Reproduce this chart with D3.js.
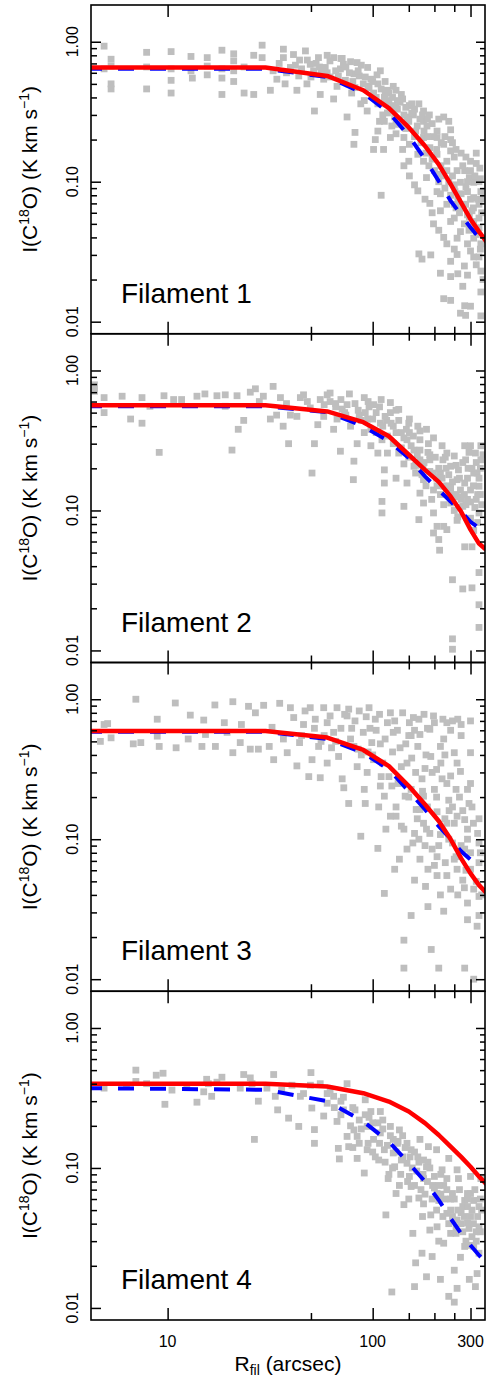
<!DOCTYPE html>
<html>
<head>
<meta charset="utf-8">
<script src="https://cdn.jsdelivr.net/npm/d3@7"></script>
<style>
  body { margin: 0; background: #fff; }
  text { font-family: "Liberation Sans", Arial, Helvetica, sans-serif; fill: #000; }
</style>
</head>
<body>
<div id="chart"></div>
<script>
// model profiles sampled every 30 arcsec
const radii = [4, 30, 60, 90, 120, 150, 180, 210, 240, 270, 300, 330, 360];

const red1  = [0.655, 0.655, 0.57, 0.45, 0.335, 0.244, 0.18, 0.133, 0.096, 0.071, 0.054, 0.044, 0.037];
const blue1 = [0.64, 0.64, 0.56, 0.43, 0.312, 0.212, 0.145, 0.101, 0.073, 0.058, 0.047, 0.040, 0.035];
const red2  = [0.565, 0.565, 0.51, 0.427, 0.339, 0.25, 0.195, 0.16, 0.126, 0.098, 0.073, 0.058, 0.052];
const blue2 = [0.555, 0.555, 0.503, 0.40, 0.312, 0.237, 0.175, 0.14, 0.116, 0.098, 0.083, 0.075, 0.068];
const red3  = [0.593, 0.593, 0.532, 0.434, 0.333, 0.24, 0.177, 0.135, 0.10, 0.073, 0.057, 0.047, 0.041];
const blue3 = [0.585, 0.585, 0.52, 0.415, 0.315, 0.22, 0.163, 0.124, 0.10, 0.082, 0.0715, 0.069, 0.066];
const red4  = [0.40, 0.40, 0.382, 0.342, 0.298, 0.253, 0.209, 0.172, 0.142, 0.12, 0.102, 0.087, 0.076];
const blue4 = [0.372, 0.362, 0.30, 0.215, 0.154, 0.108, 0.08, 0.059, 0.0436, 0.034, 0.028, 0.0238, 0.021];

// observed pixels [R_fil (arcsec), I (K km/s)]
const points1 = [
  [4.9,0.93],[4.9,0.64],[5.3,0.75],[5.3,0.67],[5.3,0.50],[5.3,0.46],
  [7.9,0.84],[7.9,0.66],[7.9,0.46],[10.4,0.85],[10.4,0.64],[10.4,0.53],[10.4,0.43],
  [13.0,0.785],[13.0,0.62],[13.2,0.55],[15.6,0.77],[15.6,0.67],[15.6,0.58],
  [18.4,0.87],[18.4,0.64],[18.4,0.55],[18.4,0.42],[21,0.82],[21,0.73],[21,0.62],[21,0.52],
  [23.6,0.66],[23.6,0.43],[26.3,0.80],[26.3,0.42],[28.9,0.945],[28.9,0.77],
  [31.7,0.45],[36.7,0.885],[32.7,0.62],[34.1,0.54],[36.7,0.77],[37.4,0.50],[39.7,0.655],
  [41.1,0.81],[42.7,0.45],[43.6,0.57],[47,0.86],[47.8,0.50],[49.6,0.69],[51.5,0.62],
  [54.4,0.77],[55.5,0.42],[57.7,0.54],[58.7,0.655],[61.9,0.73],[64.5,0.77],[64.5,0.39],
  [67,0.48],[69.6,0.64],[72,0.69],[73.6,0.53],[75,0.29],[79,0.43],[81,0.59],[82,0.47],
  [83.9,0.71],[87.5,0.36],[91,0.38],[94.5,0.655],[98,0.54],[101,0.43],[106,0.50],
  [109,0.62],[114,0.40],[52,0.32],[82,0.225],[81,0.185],[103,0.20],[101,0.17],[113,0.17],
  [110,0.08],[126,0.48],[138,0.42],[122,0.32],[130,0.257],[142,0.30],[151,0.35],[168,0.36],
  [177,0.27],[189,0.30],[206,0.23],[222,0.29],[235,0.27],[240,0.235],[222,0.185],[250,0.15],
  [281,0.12],[296,0.107],[333,0.125],[337,0.085],[311,0.077],[151,0.185],[166,0.157],
  [177,0.14],[183,0.107],[151,0.11],[142,0.13],[190,0.07],[206,0.085],[214,0.062],
  [230,0.069],[250,0.055],[198,0.05],[222,0.04],[268,0.044],[290,0.036],[240,0.027],
  [258,0.0302],[311,0.029],[337,0.036],[168,0.0305],[174,0.028],[192,0.03],[214,0.0222],
  [240,0.021],[275,0.0179],[222,0.0146],[240,0.0142],[281,0.013],[300,0.0129],[268,0.0115],
  [284,0.0111],[337,0.011],[337,0.023],[337,0.0163],[330,0.069],[330,0.055],[296,0.056],
  [262,0.072],[252,0.085],[268,0.099],[311,0.099],[284,0.069],[311,0.052],[240,0.052],
  [258,0.0395],[311,0.0395],[330,0.029],[214,0.113],[230,0.14],[177,0.207],[190,0.175],
  [162,0.23],[206,0.157],[240,0.166],[258,0.12],[290,0.085],[250,0.069],[214,0.082],
  [166,0.086],[142,0.207],[130,0.34],[147,0.29],[177,0.32],[206,0.207],[118,0.45],
  [106,0.36],[94,0.32],[114,0.27],[122,0.207],[106,0.23],
  [44,0.74],[53,0.70],[60,0.60],[66,0.62],[71,0.76],[77,0.60],[86,0.57],[90,0.50],
  [96,0.47],[104,0.40],[116,0.36],[132,0.38],[158,0.30],[184,0.25],[198,0.21],[216,0.19],
  [245,0.19],[270,0.16],[300,0.14],[320,0.16],[330,0.10],
  [115,0.42],[120,0.38],[125,0.35],[118,0.31],[128,0.29],[132,0.33],[136,0.37],[140,0.26],
  [145,0.24],[150,0.27],[155,0.31],[160,0.21],[165,0.25],[170,0.28],[172,0.19],[178,0.23],
  [182,0.16],[185,0.21],[188,0.13],[195,0.145],[200,0.12],[205,0.17],[210,0.10],[215,0.13],
  [220,0.11],[225,0.09],[230,0.12],[235,0.10],[240,0.08],[245,0.11],[250,0.095],[255,0.065],
  [260,0.078],[265,0.06],[270,0.082],[275,0.065],[280,0.05],[285,0.092],[290,0.058],
  [295,0.045],[300,0.075],[305,0.062],[310,0.048],[315,0.11],[320,0.042],[325,0.075],
  [330,0.047],[335,0.033],[340,0.06],[345,0.02],[300,0.032],[280,0.025],[260,0.022],
  [320,0.0255],[290,0.0215],[250,0.033],[230,0.036],[210,0.045],[195,0.06],[180,0.075],
  [160,0.095],[150,0.14],[140,0.17],[130,0.22],[124,0.25],[112,0.30],[108,0.27],
  [35,0.70],[38,0.60],[42,0.68],[45,0.64],[48,0.74],[50,0.56],[55,0.66],[56,0.60],[60,0.80],
  [62,0.56],[68,0.57],[70,0.76],[74,0.66],[78,0.72],[80,0.52],[85,0.62],[88,0.68],[92,0.56],
  [95,0.48],[100,0.52],[105,0.58],[110,0.46],[115,0.52],[120,0.43],[125,0.40],[130,0.45],
  [140,0.39],[145,0.34],[155,0.36],[160,0.33],[175,0.30],[185,0.28],[195,0.26],[210,0.28],
  [225,0.21],[240,0.20],[255,0.17],[285,0.15],[300,0.12],[320,0.135],[335,0.105],
  [340,0.075],[310,0.065],[290,0.10],[275,0.13]
];

const points2 = [
  [4.4,0.79],[4.4,0.71],[4.9,0.64],[4.9,0.50],[6.0,0.655],[6.6,0.45],[7.5,0.64],[7.5,0.42],
  [8.2,0.555],[9.1,0.26],[9.6,0.66],[10.7,0.62],[11.7,0.62],[13.9,0.655],[15.2,0.68],
  [17.4,0.66],[19.1,0.67],[19.1,0.555],[21.8,0.66],[22.1,0.38],[20.6,0.27],[23.5,0.44],
  [25.3,0.70],[26.8,0.74],[29.3,0.655],[32.7,0.77],[35.5,0.64],[31.7,0.45],[34,0.48],
  [36.6,0.40],[38.9,0.30],[39.7,0.48],[42.7,0.47],[44.4,0.64],[46,0.67],[49.6,0.54],
  [50.6,0.185],[52,0.30],[54,0.41],[55.5,0.62],[57.7,0.47],[60,0.67],[62,0.69],[64.5,0.38],
  [67,0.45],[69.6,0.265],[71,0.53],[75,0.57],[78,0.40],[81,0.225],[80.5,0.166],[84,0.30],
  [91,0.64],[91,0.36],[94.5,0.45],[98,0.29],[101,0.57],[104,0.50],[106,0.257],[111,0.32],
  [114,0.195],[114,0.157],[111,0.116],[111,0.096],[122,0.59],[122,0.50],[126,0.40],
  [130,0.17],[142,0.215],[142,0.107],[151,0.45],[151,0.36],[159,0.27],[162,0.185],
  [170,0.133],[168,0.086],[183,0.38],[187,0.30],[190,0.23],[198,0.185],[198,0.096],
  [198,0.069],[210,0.062],[212,0.052],[206,0.077],[222,0.077],[218,0.29],[222,0.149],
  [240,0.207],[240,0.113],[230,0.073],[245,0.032],[258,0.166],[275,0.107],[275,0.0275],
  [281,0.29],[284,0.23],[300,0.14],[305,0.055],[305,0.028],[317,0.257],[323,0.185],
  [330,0.149],[330,0.096],[330,0.036],[330,0.0212],[330,0.0146],[245,0.0121],[245,0.0102],
  [281,0.055],[311,0.072],[258,0.085],[290,0.12],[262,0.195],[214,0.185],[177,0.166],
  [147,0.157],[177,0.113],[134,0.257],[159,0.207],[198,0.14],[281,0.157],[311,0.185],
  [337,0.23],[337,0.29],[300,0.29],[250,0.245],[230,0.257],[268,0.14],[134,0.527],
  [147,0.32],[170,0.23],[118,0.257],[98,0.38],[109,0.42],[170,0.32],
  [28,0.60],[38,0.58],[48,0.60],[58,0.57],[66,0.58],[73,0.50],[86,0.48],[96,0.55],
  [117,0.44],[138,0.36],[165,0.25],[176,0.20],[205,0.17],[228,0.20],[255,0.13],[292,0.20],
  [320,0.12],[335,0.13],[265,0.105],
  [62,0.60],[66,0.55],[70,0.62],[74,0.48],[77,0.68],[82,0.58],[85,0.52],[88,0.44],[92,0.50],
  [95,0.60],[100,0.45],[104,0.36],[108,0.55],[112,0.40],[115,0.47],[118,0.34],[123,0.42],
  [126,0.30],[130,0.36],[134,0.44],[138,0.28],[142,0.33],[146,0.38],[150,0.24],[154,0.29],
  [158,0.34],[162,0.21],[166,0.40],[170,0.27],[174,0.18],[178,0.22],[182,0.15],[186,0.26],
  [190,0.19],[194,0.12],[198,0.33],[202,0.24],[206,0.15],[210,0.20],[214,0.13],[218,0.17],
  [222,0.11],[226,0.24],[230,0.15],[235,0.18],[240,0.13],[245,0.16],[250,0.10],[255,0.21],
  [260,0.125],[265,0.17],[270,0.12],[275,0.22],[280,0.13],[285,0.11],[290,0.17],[295,0.26],
  [300,0.115],[305,0.20],[310,0.15],[315,0.105],[320,0.22],[325,0.13],[330,0.17],[335,0.20],
  [340,0.11],[345,0.25],[325,0.082],[300,0.088],[260,0.09],[240,0.145],[220,0.23],
  [190,0.25],[170,0.37],[150,0.42],[130,0.52],[110,0.62]
];

const points3 = [
  [4.7,0.50],[4.9,0.66],[5.1,0.67],[5.3,0.53],[6.8,0.48],[7.0,1.0],[7.4,0.49],[8.9,0.72],
  [8.9,0.545],[9.1,0.46],[10.9,0.94],[11.0,0.45],[12.9,0.77],[12.6,0.52],[15.0,0.71],
  [15.3,0.56],[14.7,0.46],[17.0,0.91],[17.1,0.46],[18.9,0.68],[19.5,0.58],[20.8,0.96],
  [20.8,0.415],[22.9,0.66],[22.6,0.49],[24.8,0.89],[25.3,0.44],[26.8,0.80],[27.7,0.44],
  [29.4,0.905],[31.3,0.46],[32.9,0.37],[32.3,0.63],[35.2,0.935],[36.7,0.52],[38.3,0.415],
  [39.7,0.87],[41.2,0.74],[42.7,0.334],[44,0.49],[46,0.66],[46.8,0.825],[48.8,0.28],
  [49.6,0.87],[50.6,0.37],[52.5,0.72],[54.5,0.46],[55.5,0.275],[57.7,0.87],[60,0.35],
  [62,0.76],[64.5,0.58],[67,0.87],[68.2,0.39],[71,0.27],[72.3,0.233],[75,0.76],[76.4,0.85],
  [76.4,0.18],[81,0.46],[84,0.33],[86,0.825],[87.5,0.105],[91,0.227],[92,0.18],[96,0.87],
  [99,0.49],[103,0.72],[106,0.086],[107,0.17],[109,0.48],[114,0.041],[116,0.118],[122,0.80],
  [124,0.24],[126,0.58],[128,0.061],[130,0.146],[135,0.072],[138,0.124],[142,0.019],
  [142,0.012],[144,0.203],[147,0.35],[151,0.68],[154,0.0285],[157,0.094],[160,0.051],
  [163,0.163],[168,0.72],[170,0.072],[174,0.27],[177,0.13],[181,0.046],[186,0.033],
  [190,0.61],[193,0.0163],[195,0.085],[200,0.227],[205,0.315],[206,0.157],[206,0.055],
  [210,0.012],[214,0.108],[218,0.27],[222,0.0306],[226,0.068],[230,0.68],[235,0.19],
  [240,0.044],[245,0.094],[250,0.415],[255,0.227],[258,0.061],[268,0.305],[275,0.051],
  [281,0.012],[281,0.085],[290,0.035],[290,0.0266],[290,0.227],[305,0.17],[311,0.044],
  [323,0.0239],[330,0.0285],[330,0.094],[330,0.068],[311,0.010],[258,0.35],[222,0.52],
  [192,0.39],[166,0.46],[154,0.55],[133,0.25],[114,0.203],[101,0.37],[94,0.30],[109,0.24],
  [122,0.146],[142,0.118],[170,0.163],[183,0.118],[206,0.075],[230,0.13],[258,0.146],
  [281,0.138],[214,0.46],[240,0.283],[300,0.415],[177,0.203],[154,0.227],[147,0.085],
  [186,0.061],[214,0.040],[250,0.072],[300,0.061],[330,0.039],[290,0.118],
  [58,0.55],[66,0.50],[79,0.62],[88,0.40],[97,0.62],[118,0.68],[136,0.45],[160,0.60],
  [180,0.32],[200,0.68],[245,0.70],[270,0.66],[300,0.25],[330,0.14],[168,0.10],[236,0.16],
  [45,0.55],[52,0.62],[56,0.50],[60,0.68],[63,0.45],[70,0.62],[73,0.78],[78,0.52],[82,0.70],
  [85,0.44],[90,0.58],[93,0.75],[100,0.40],[104,0.60],[108,0.78],[112,0.35],[115,0.52],
  [120,0.28],[125,0.42],[128,0.70],[132,0.60],[138,0.33],[140,0.80],[145,0.48],[150,0.20],
  [155,0.38],[158,0.74],[162,0.30],[165,0.14],[170,0.56],[175,0.22],[178,0.78],[182,0.40],
  [185,0.17],[190,0.11],[195,0.30],[198,0.76],[205,0.20],[210,0.09],[215,0.35],[220,0.72],
  [225,0.14],[230,0.25],[235,0.10],[240,0.60],[245,0.17],[250,0.13],[255,0.075],[260,0.72],
  [265,0.20],[270,0.09],[275,0.16],[285,0.06],[290,0.10],[295,0.18],[300,0.08],[310,0.13],
  [320,0.05],[325,0.11],[335,0.08],[340,0.04],[280,0.045],[260,0.04],[230,0.055],
  [200,0.065],[180,0.09],[160,0.11],[130,0.17],[110,0.28],[95,0.42],[225,0.40],[270,0.55],
  [300,0.70],[185,0.62],[150,0.55]
];

const points4 = [
  [4.9,0.372],[6.3,0.39],[7.0,0.50],[7.0,0.415],[7.9,0.40],[8.8,0.46],[9.5,0.475],
  [9.7,0.285],[10.5,0.36],[12.4,0.38],[13.9,0.295],[15,0.35],[15.5,0.43],[15.8,0.40],
  [16.4,0.325],[17.4,0.41],[18.4,0.445],[22.6,0.372],[23.5,0.465],[25.3,0.44],[25.8,0.40],
  [26.5,0.16],[27.7,0.30],[30.5,0.372],[32.9,0.465],[33.5,0.325],[34.4,0.26],[38.9,0.227],
  [40.4,0.39],[43.6,0.198],[44.4,0.325],[49.7,0.39],[50,0.48],[50.5,0.268],[52,0.188],
  [52,0.15],[55.5,0.40],[57.7,0.235],[60,0.29],[64.5,0.325],[67,0.215],[68,0.138],
  [68.8,0.116],[72,0.26],[75,0.40],[75,0.168],[76.4,0.142],[81,0.187],[84,0.117],[86,0.22],
  [91,0.092],[92,0.307],[94,0.135],[98,0.253],[101,0.16],[106,0.21],[107,0.114],[109,0.253],
  [114,0.135],[116,0.0462],[119,0.084],[122,0.198],[124,0.013],[126,0.16],[128,0.102],
  [130,0.0657],[135,0.187],[138,0.114],[142,0.0547],[147,0.15],[151,0.087],[157,0.0341],
  [160,0.0142],[162,0.021],[166,0.12],[168,0.061],[170,0.16],[174,0.0246],[177,0.084],
  [183,0.102],[183,0.0167],[187,0.142],[192,0.0462],[195,0.0233],[200,0.087],[205,0.135],
  [206,0.038],[210,0.0586],[214,0.016],[218,0.097],[222,0.029],[230,0.0474],[235,0.117],
  [235,0.0121],[245,0.0657],[250,0.011],[250,0.0186],[255,0.0341],[258,0.0138],[262,0.084],
  [268,0.023],[275,0.053],[281,0.0275],[290,0.0405],[296,0.016],[300,0.087],[300,0.0657],
  [305,0.0323],[317,0.0142],[323,0.0176],[330,0.053],[330,0.038],[330,0.0246],[337,0.084],
  [311,0.0586],[258,0.097],[222,0.075],[177,0.114],[147,0.108],[126,0.128],[109,0.178],
  [94,0.198],[84,0.168],[154,0.0737],[206,0.0657],[281,0.0586],[240,0.0341],[290,0.053],
  [177,0.0554],[154,0.135],[230,0.084],[290,0.0657],[258,0.0425],[311,0.0275],
  [36,0.36],[46,0.34],[62,0.36],[70,0.30],[80,0.27],[96,0.23],[112,0.22],[132,0.15],
  [140,0.17],[160,0.13],[186,0.11],[196,0.075],[215,0.09],[240,0.06],[270,0.048],
  [300,0.045],[320,0.035],[335,0.06],
  [60,0.34],[65,0.27],[70,0.24],[72,0.32],[78,0.20],[82,0.26],[86,0.15],[88,0.19],[92,0.24],
  [95,0.15],[100,0.21],[103,0.12],[108,0.15],[112,0.19],[115,0.11],[118,0.145],[122,0.17],
  [125,0.10],[130,0.13],[133,0.155],[137,0.09],[140,0.12],[144,0.14],[148,0.08],[152,0.12],
  [156,0.10],[160,0.075],[164,0.095],[168,0.11],[172,0.07],[176,0.09],[180,0.065],[185,0.08],
  [190,0.10],[195,0.06],[200,0.072],[205,0.05],[210,0.075],[215,0.065],[220,0.045],
  [225,0.06],[230,0.07],[235,0.04],[240,0.05],[245,0.045],[250,0.06],[255,0.038],[260,0.05],
  [265,0.07],[270,0.04],[275,0.035],[280,0.045],[285,0.03],[290,0.06],[295,0.037],
  [300,0.028],[305,0.05],[310,0.04],[315,0.07],[320,0.03],[325,0.045],[335,0.035],
  [340,0.05],[210,0.03],[190,0.036],[175,0.045],[150,0.06],[135,0.075],[120,0.09],
  [100,0.13],[80,0.14]
];

const panels = [
  { label: "Filament 1", pts: points1, red: red1, blue: blue1 },
  { label: "Filament 2", pts: points2, red: red2, blue: blue2 },
  { label: "Filament 3", pts: points3, red: red3, blue: blue3 },
  { label: "Filament 4", pts: points4, red: red4, blue: blue4 }
];

const xTicksMajor = [10, 100, 300];
const xTicksMinor = [50, 150, 200, 250];
const yTicksMajor = [1, 0.1, 0.01];
const yTicksMinor = [0.9, 0.8, 0.7, 0.6, 0.5, 0.4, 0.3, 0.2,
                     0.09, 0.08, 0.07, 0.06, 0.05, 0.04, 0.03, 0.02];
const yLabels = ["1.00", "0.10", "0.01"];

const W = 486, H = 1380;
const left = 91, right = 485, top0 = 5, panelH = 328.75;

const svg = d3.select("#chart").append("svg")
    .attr("width", W).attr("height", H);

const x = d3.scaleLog().domain([4.23, 353]).range([left, right]);

const sq = 6.8;

panels.forEach((p, i) => {
    const pt = top0 + i * panelH;
    const pb = pt + panelH;
    const y = d3.scaleLog().domain([0.0082, 1.83]).range([pb, pt]);

    const clipId = "clip" + i;
    svg.append("clipPath").attr("id", clipId)
        .append("rect").attr("x", left).attr("y", pt)
        .attr("width", right - left).attr("height", panelH);

    const g = svg.append("g");
    const plot = g.append("g").attr("clip-path", `url(#${clipId})`);

    // scatter
    plot.selectAll("rect.pt")
        .data(p.pts)
        .enter().append("rect")
        .attr("class", "pt")
        .attr("x", d => x(d[0]) - sq / 2)
        .attr("y", d => y(d[1]) - sq / 2)
        .attr("width", sq).attr("height", sq)
        .attr("fill", "#bebebe");

    const line = d3.line().x(d => x(d[0])).y(d => y(d[1]));

    plot.append("path")
        .datum(radii.map((r, k) => [r, p.blue[k]]))
        .attr("d", line)
        .attr("fill", "none")
        .attr("stroke", "#0000ff")
        .attr("stroke-width", 4)
        .attr("stroke-dasharray", "16,16");

    plot.append("path")
        .datum(radii.map((r, k) => [r, p.red[k]]))
        .attr("d", line)
        .attr("fill", "none")
        .attr("stroke", "#ff0000")
        .attr("stroke-width", 4.5)
        .attr("stroke-linejoin", "round");

    // ticks (inward) on all four sides
    const tickStyle = sel => {
        sel.select(".domain").remove();
        sel.selectAll("line").attr("stroke", "#000").attr("stroke-width", 1.5);
        sel.selectAll("text").remove();
    };
    g.append("g").attr("transform", `translate(0,${pb})`)
        .call(d3.axisBottom(x).tickValues(xTicksMajor).tickSize(-12)).call(tickStyle);
    g.append("g").attr("transform", `translate(0,${pb})`)
        .call(d3.axisBottom(x).tickValues(xTicksMinor).tickSize(-7)).call(tickStyle);
    g.append("g").attr("transform", `translate(0,${pt})`)
        .call(d3.axisTop(x).tickValues(xTicksMajor).tickSize(-12)).call(tickStyle);
    g.append("g").attr("transform", `translate(0,${pt})`)
        .call(d3.axisTop(x).tickValues(xTicksMinor).tickSize(-7)).call(tickStyle);
    g.append("g").attr("transform", `translate(${left},0)`)
        .call(d3.axisLeft(y).tickValues(yTicksMajor).tickSize(-10)).call(tickStyle);
    g.append("g").attr("transform", `translate(${left},0)`)
        .call(d3.axisLeft(y).tickValues(yTicksMinor).tickSize(-6)).call(tickStyle);
    g.append("g").attr("transform", `translate(${right},0)`)
        .call(d3.axisRight(y).tickValues(yTicksMajor).tickSize(-9)).call(tickStyle);
    g.append("g").attr("transform", `translate(${right},0)`)
        .call(d3.axisRight(y).tickValues(yTicksMinor).tickSize(-5)).call(tickStyle);

    // frame
    g.append("rect")
        .attr("x", left).attr("y", pt)
        .attr("width", right - left).attr("height", panelH)
        .attr("fill", "none").attr("stroke", "#000").attr("stroke-width", 1.6);

    // y tick labels, rotated
    yTicksMajor.forEach((v, k) => {
        g.append("text")
            .attr("transform", `translate(78,${y(v)}) rotate(-90)`)
            .attr("text-anchor", "middle")
            .style("font-size", "16px")
            .text(yLabels[k]);
    });

    // y title
    const yt = g.append("text")
        .attr("transform", `translate(37,${(pt + pb) / 2}) rotate(-90)`)
        .attr("text-anchor", "middle")
        .style("font-size", "21px");
    yt.append("tspan").text("I(C");
    yt.append("tspan").attr("dy", -8).style("font-size", "14px").text("18");
    yt.append("tspan").attr("dy", 8).text("O) (K km s");
    yt.append("tspan").attr("dy", -8).style("font-size", "14px").text("\u22121");
    yt.append("tspan").attr("dy", 8).text(")");

    // panel label
    g.append("text")
        .attr("x", 121).attr("y", pb - 31)
        .style("font-size", "28px")
        .text(p.label);

    if (i === panels.length - 1) {
        xTicksMajor.forEach(v => {
            g.append("text")
                .attr("x", x(v)).attr("y", pb + 27)
                .attr("text-anchor", "middle")
                .style("font-size", "16px")
                .text(v);
        });
        const xt = g.append("text")
            .attr("x", (left + right) / 2).attr("y", pb + 51)
            .attr("text-anchor", "middle")
            .style("font-size", "21px");
        xt.append("tspan").text("R");
        xt.append("tspan").attr("dy", 4).style("font-size", "14px").text("fil");
        xt.append("tspan").attr("dy", -4).text(" (arcsec)");
    }
});
</script>
</body>
</html>
